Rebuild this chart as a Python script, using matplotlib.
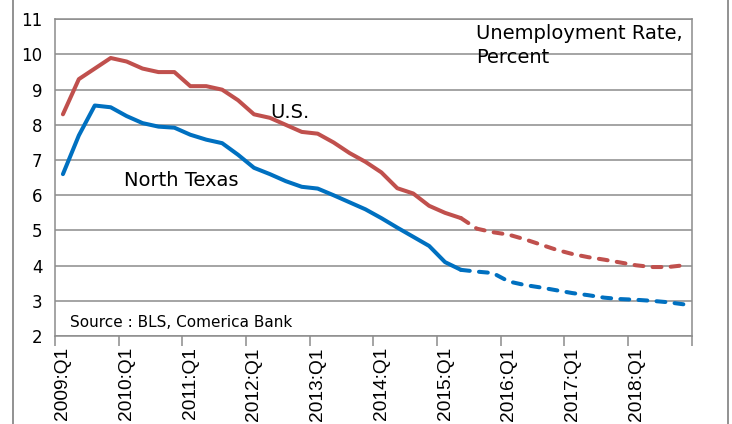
import numpy as np
import matplotlib
matplotlib.use("agg")
import matplotlib.pyplot as plt
from matplotlib.patches import Rectangle

plt.rcParams['font.family'] = ['DejaVu Sans']

# quarters 2009:Q1 .. 2018:Q4
quarters = [f"{y}:Q{q}" for y in range(2009, 2019) for q in range(1, 5)]

# U.S. unemployment rate (2009:Q1 - 2015:Q2 actual, then forecast)
us_rate = [8.3, 9.3, 9.6, 9.9, 9.8, 9.6, 9.5, 9.5, 9.1, 9.1, 9.0, 8.7,
           8.3, 8.2, 8.0, 7.8, 7.75, 7.5, 7.2, 6.95, 6.65, 6.2, 6.05, 5.7,
           5.5, 5.35, 5.05, 4.95, 4.88, 4.75, 4.6, 4.45, 4.33, 4.24, 4.17, 4.09,
           4.01, 3.96, 3.96, 4.01]
# North Texas
ntx_rate = [6.6, 7.7, 8.55, 8.5, 8.25, 8.05, 7.95, 7.92, 7.72, 7.58, 7.48, 7.15,
            6.78, 6.6, 6.4, 6.24, 6.19, 6.0, 5.8, 5.6, 5.35, 5.08, 4.82, 4.56,
            4.1, 3.88, 3.83, 3.79, 3.55, 3.45, 3.38, 3.3, 3.22, 3.16, 3.09, 3.05,
            3.03, 3.0, 2.96, 2.9]
last_actual = 25   # 2015:Q2

red = "#C0504D"
blue = "#0070C0"
grid_c = "#8C8C8C"

fig = plt.figure(figsize=(7.32, 4.24), dpi=100)

# chart area border (only the sides are inside the picture)
fig.add_artist(Rectangle((12.5 / 732, -0.1), 715 / 732, 1.2, transform=fig.transFigure,
                         fill=False, edgecolor="#7F7F7F", lw=1.2, zorder=0))

ax = fig.add_axes([0.0751, 0.2075, 0.870, 0.747])

x = np.arange(len(quarters))
lw = 2.9
for vals, c in [(us_rate, red), (ntx_rate, blue)]:
    vals = np.array(vals)
    ax.plot(x[:last_actual + 1], vals[:last_actual + 1], color=c, lw=lw,
            solid_joinstyle='round', solid_capstyle='round', zorder=3)
    ax.plot(x[last_actual:], vals[last_actual:], color=c, lw=lw,
            linestyle=(0, (2.2, 2.3)), dash_capstyle='round', zorder=3)

ax.set_xlim(-0.5, len(quarters) - 0.5)
ax.set_ylim(2, 11)
ax.set_yticks(range(2, 12))
ax.yaxis.grid(True, color=grid_c, lw=1.1)
ax.set_axisbelow(True)

# tick marks at year boundaries, labels at Q1 centres
ax.set_xticks(np.arange(-0.5, len(quarters), 4))
ax.set_xticklabels([])
ax.set_xticks(np.arange(0, len(quarters), 4), minor=True)
ax.set_xticklabels(quarters[::4], minor=True, rotation=90, fontsize=13.8,
                   family=['Liberation Sans', 'DejaVu Sans'])
ax.tick_params(axis='x', which='major', direction='out', length=7, color=grid_c, width=1.1)
ax.tick_params(axis='x', which='minor', length=0, pad=8)
ax.tick_params(axis='y', length=0, pad=9, labelsize=12)

for s in ax.spines.values():
    s.set_color(grid_c)
    s.set_linewidth(1.1)

ax.text(0.661, 0.985, "Unemployment Rate,\nPercent", transform=ax.transAxes,
        fontsize=14, ha='left', va='top', linespacing=1.3)
ax.text(0.3375, 0.688, "U.S.", transform=ax.transAxes, fontsize=14,
        ha='left', va='baseline')
ax.text(0.108, 0.474, "North Texas", transform=ax.transAxes, fontsize=14,
        ha='left', va='baseline')
ax.text(0.0235, 0.028, "Source : BLS, Comerica Bank", transform=ax.transAxes,
        fontsize=11, ha='left', va='baseline')

fig.savefig("out.png", dpi=100)
